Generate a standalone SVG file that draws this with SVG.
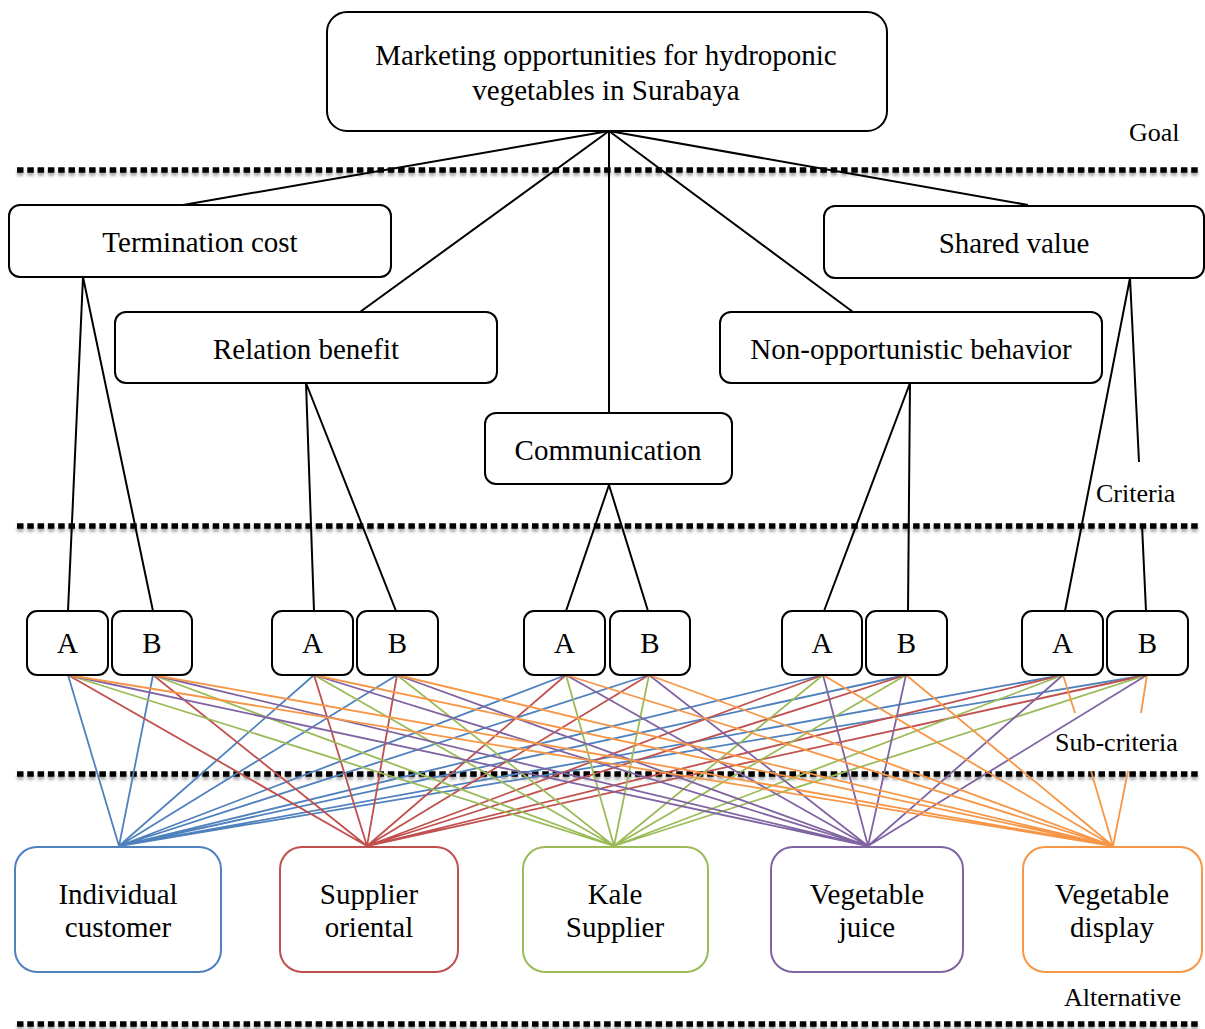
<svg xmlns="http://www.w3.org/2000/svg" width="1205" height="1029" viewBox="0 0 1205 1029">
  <defs>
    <filter id="lineShadow" filterUnits="userSpaceOnUse" x="0" y="0" width="1205" height="1029">
      <feDropShadow dx="0" dy="3" stdDeviation="1.6" flood-color="#000" flood-opacity="0.35"/>
    </filter>
    <style>
      text { font-family: "Liberation Serif", "Times New Roman", serif; fill: #000; }
      .box { fill: #fff; stroke: #000; stroke-width: 2; }
      .alt { fill: #fff; stroke-width: 2; }
      .t { font-size: 29px; text-anchor: middle; }
      .lbl { font-size: 26px; }
      .sep { stroke: #000; stroke-width: 5.5; stroke-dasharray: 6.5 3.8; fill: none; }
      .k { stroke: #000; stroke-width: 2; fill: none; }
      .blue { stroke: #4F81BD; }
      .red { stroke: #C0504D; }
      .green { stroke: #9BBB59; }
      .purple { stroke: #8064A2; }
      .orange { stroke: #F79646; }
      .c { stroke-width: 1.8; fill: none; }
    </style>
  </defs>
  <rect width="1205" height="1029" fill="#fff"/>

  <!-- level separators -->
  <g id="separators" filter="url(#lineShadow)">
    <line class="sep" x1="17" y1="170" x2="1198" y2="170"/>
    <line class="sep" x1="17" y1="526" x2="1198" y2="526"/>
    <line class="sep" x1="17" y1="774" x2="1198" y2="774"/>
    <line class="sep" x1="17" y1="1024" x2="1198" y2="1024"/>
  </g>

  <!-- level labels -->
  <g id="levels">
    <text class="lbl" x="1129" y="141">Goal</text>
    <text class="lbl" x="1096" y="502">Criteria</text>
    <text class="lbl" x="1055" y="751">Sub-criteria</text>
    <text class="lbl" x="1064" y="1006">Alternative</text>
  </g>

  <g id="connectors">
    <!-- goal to criteria -->
    <path class="k" d="M609 131L183 205M609 131L360 312M609 131V413M609 131L853 312M609 131L1028 205"/>
    <!-- criteria to sub-criteria -->
    <path class="k" d="M83 277L68 611M83 277L153 611"/>
    <path class="k" d="M306 383L314 611M306 383L396 611"/>
    <path class="k" d="M609 485L566 611M609 485L648 611"/>
    <path class="k" d="M910 383L824 611M910 383L908 611"/>
    <path class="k" d="M1130 278L1065 611M1130 278L1139 462M1142 525L1146 611"/>
    <!-- sub-criteria to alternatives -->
    <path class="c blue" d="M68 675L119 846M153 675L119 846M314 675L119 846M397 675L119 846M566 675L119 846M649 675L119 846M823 675L119 846M906 675L119 846M1063 675L119 846M1147 675L119 846"/>
    <path class="c red" d="M68 675L367 846M153 675L367 846M314 675L367 846M397 675L367 846M566 675L367 846M649 675L367 846M823 675L367 846M906 675L367 846M1063 675L367 846M1147 675L367 846"/>
    <path class="c green" d="M68 675L614 846M153 675L614 846M314 675L614 846M397 675L614 846M566 675L614 846M649 675L614 846M823 675L614 846M906 675L614 846M1063 675L614 846M1147 675L614 846"/>
    <path class="c purple" d="M68 675L868 846M153 675L868 846M314 675L868 846M397 675L868 846M566 675L868 846M649 675L868 846M823 675L868 846M906 675L868 846M1063 675L868 846M1147 675L868 846"/>
    <path class="c orange" d="M68 675L1113 846M153 675L1113 846M314 675L1113 846M397 675L1113 846M566 675L1113 846M649 675L1113 846M823 675L1113 846M906 675L1113 846M1063 675L1075 713M1091 771L1113 846M1147 675L1141 713M1128 771L1113 846"/>
  </g>

  <!-- goal -->
  <g id="goal">
    <rect class="box" x="327" y="12" width="560" height="119" rx="20"/>
    <text class="t" x="606" y="65">Marketing opportunities for hydroponic</text>
    <text class="t" x="606" y="100">vegetables in Surabaya</text>
  </g>

  <!-- criteria -->
  <g id="termination-cost">
    <rect class="box" x="9" y="205" width="382" height="72" rx="11"/>
    <text class="t" x="200" y="252">Termination cost</text>
  </g>
  <g id="shared-value">
    <rect class="box" x="824" y="206" width="380" height="72" rx="11"/>
    <text class="t" x="1014" y="253">Shared value</text>
  </g>
  <g id="relation-benefit">
    <rect class="box" x="115" y="312" width="382" height="71" rx="11"/>
    <text class="t" x="306" y="359">Relation benefit</text>
  </g>
  <g id="non-opportunistic-behavior">
    <rect class="box" x="720" y="312" width="382" height="71" rx="11"/>
    <text class="t" x="911" y="359">Non-opportunistic behavior</text>
  </g>
  <g id="communication">
    <rect class="box" x="485" y="413" width="247" height="71" rx="11"/>
    <text class="t" x="608" y="460">Communication</text>
  </g>

  <!-- sub-criteria -->
  <g id="tc-a"><rect class="box" x="27" y="611" width="81" height="64" rx="10"/><text class="t" x="67.5" y="653">A</text></g>
  <g id="tc-b"><rect class="box" x="112" y="611" width="80" height="64" rx="10"/><text class="t" x="152" y="653">B</text></g>
  <g id="rb-a"><rect class="box" x="272" y="611" width="81" height="64" rx="10"/><text class="t" x="312.5" y="653">A</text></g>
  <g id="rb-b"><rect class="box" x="357" y="611" width="81" height="64" rx="10"/><text class="t" x="397.5" y="653">B</text></g>
  <g id="cm-a"><rect class="box" x="524" y="611" width="81" height="64" rx="10"/><text class="t" x="564.5" y="653">A</text></g>
  <g id="cm-b"><rect class="box" x="610" y="611" width="80" height="64" rx="10"/><text class="t" x="650" y="653">B</text></g>
  <g id="nb-a"><rect class="box" x="782" y="611" width="80" height="64" rx="10"/><text class="t" x="822" y="653">A</text></g>
  <g id="nb-b"><rect class="box" x="866" y="611" width="81" height="64" rx="10"/><text class="t" x="906.5" y="653">B</text></g>
  <g id="sv-a"><rect class="box" x="1022" y="611" width="81" height="64" rx="10"/><text class="t" x="1062.5" y="653">A</text></g>
  <g id="sv-b"><rect class="box" x="1107" y="611" width="81" height="64" rx="10"/><text class="t" x="1147.5" y="653">B</text></g>

  <!-- alternatives -->
  <g id="individual-customer">
    <rect class="alt blue" x="15" y="847" width="206" height="125" rx="22"/>
    <text class="t" x="118" y="904">Individual</text>
    <text class="t" x="118" y="937">customer</text>
  </g>
  <g id="supplier-oriental">
    <rect class="alt red" x="280" y="847" width="178" height="125" rx="22"/>
    <text class="t" x="369" y="904">Supplier</text>
    <text class="t" x="369" y="937">oriental</text>
  </g>
  <g id="kale-supplier">
    <rect class="alt green" x="523" y="847" width="185" height="125" rx="22"/>
    <text class="t" x="615" y="904">Kale</text>
    <text class="t" x="615" y="937">Supplier</text>
  </g>
  <g id="vegetable-juice">
    <rect class="alt purple" x="771" y="847" width="192" height="125" rx="22"/>
    <text class="t" x="867" y="904">Vegetable</text>
    <text class="t" x="867" y="937">juice</text>
  </g>
  <g id="vegetable-display">
    <rect class="alt orange" x="1023" y="847" width="179" height="125" rx="22"/>
    <text class="t" x="1112" y="904">Vegetable</text>
    <text class="t" x="1112" y="937">display</text>
  </g>
</svg>
